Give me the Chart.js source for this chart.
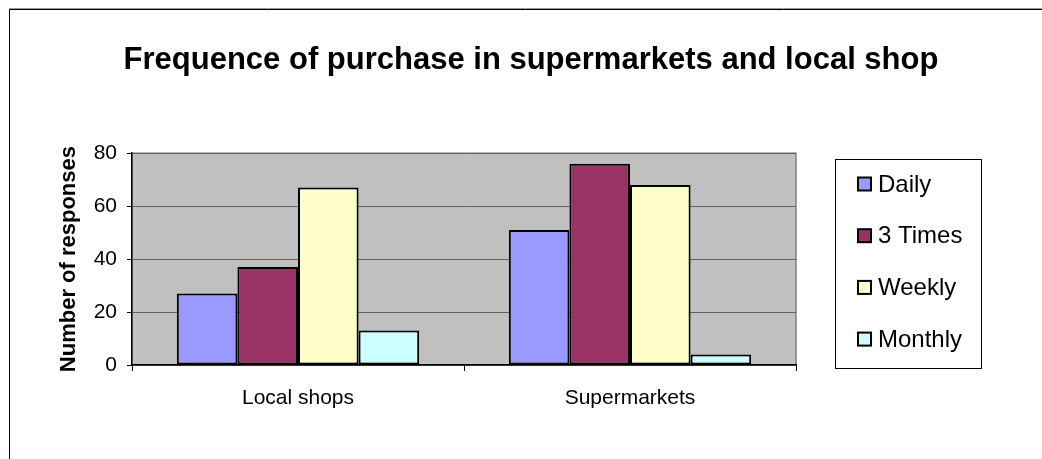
<!DOCTYPE html>
<html>
<head>
<meta charset="utf-8">
<script src="https://cdn.jsdelivr.net/npm/chart.js@4/dist/chart.umd.min.js"></script>
<style>
  html, body { margin: 0; padding: 0; background: #fff; }
  #wrap { position: relative; width: 1042px; height: 459px; }
</style>
</head>
<body>
<div id="wrap"><canvas id="c" width="1042" height="459"></canvas></div>
<script>
// Survey data: how often respondents buy in each kind of shop
const categories = ['Local shops', 'Supermarkets'];
const seriesNames = ['Daily', '3 Times', 'Weekly', 'Monthly'];
const daily   = [27, 51];
const threeTimes = [37, 76];
const weekly  = [67, 68];
const monthly = [13, 4];
const yTicks = [0, 20, 40, 60, 80];

const seriesValues = [daily, threeTimes, weekly, monthly];
const seriesColors = ['#9999FF', '#993366', '#FFFFCC', '#CCFFFF'];

const FONT = "'Liberation Sans', Arial, sans-serif";

// Frame, plot background and boxed legend
const decor = {
  id: 'decor',
  beforeDraw(chart) {
    const ctx = chart.ctx;
    const a = chart.chartArea;
    ctx.save();
    ctx.fillStyle = '#ffffff';
    ctx.fillRect(0, 0, chart.width, chart.height);
    // outer frame (top and left edges)
    ctx.strokeStyle = '#999999';
    ctx.lineWidth = 1;
    ctx.beginPath();
    ctx.moveTo(9, 8.5); ctx.lineTo(chart.width, 8.5);
    ctx.stroke();
    ctx.strokeStyle = '#000000';
    ctx.beginPath();
    ctx.moveTo(9.5, chart.height); ctx.lineTo(9.5, 9.5); ctx.lineTo(chart.width, 9.5);
    ctx.stroke();
    // plot area
    ctx.fillStyle = '#C0C0C0';
    ctx.fillRect(a.left, a.top, a.right - a.left, a.bottom - a.top);
    ctx.strokeStyle = '#808080';
    ctx.lineWidth = 1.5;
    ctx.strokeRect(a.left, a.top, a.right - a.left, a.bottom - a.top);
    ctx.restore();
  },
  afterDraw(chart) {
    const ctx = chart.ctx;
    const a = chart.chartArea;
    const bx = a.right + 39.5, by = 159.5, bw = 146, bh = 209;
    ctx.save();
    ctx.strokeStyle = '#000000';
    ctx.lineWidth = 1;
    ctx.strokeRect(bx, by, bw, bh);
    ctx.font = '24px ' + FONT;
    ctx.textBaseline = 'middle';
    ctx.textAlign = 'left';
    chart.data.datasets.forEach((ds, i) => {
      const y = 184 + i * 51.7;
      ctx.fillStyle = ds.backgroundColor;
      ctx.fillRect(bx + 22.5, y - 6.5, 13, 13);
      ctx.strokeStyle = '#000000';
      ctx.lineWidth = 2;
      ctx.strokeRect(bx + 22.5, y - 6.5, 13, 13);
      ctx.fillStyle = '#000000';
      ctx.fillText(ds.label, bx + 42.5, y + 1);
    });
    ctx.restore();
  }
};

new Chart(document.getElementById('c'), {
  type: 'bar',
  data: {
    labels: categories,
    datasets: seriesNames.map((name, i) => ({
      label: name,
      data: seriesValues[i],
      backgroundColor: seriesColors[i],
      borderColor: '#000000',
      borderWidth: 2,
      borderSkipped: false,
      categoryPercentage: 0.73,
      barPercentage: 1.0
    }))
  },
  options: {
    responsive: false,
    animation: false,
    devicePixelRatio: 1,
    layout: { padding: { left: 20, right: 0, top: 0, bottom: 0 } },
    plugins: {
      legend: { display: false },
      tooltip: { enabled: false },
      title: {
        display: true,
        text: 'Frequence of purchase in supermarkets and local shop',
        color: '#000000',
        font: { family: FONT, size: 31, weight: 'bold' },
        padding: { top: 42, bottom: 74 }
      }
    },
    scales: {
      x: {
        afterFit(scale) { scale.height = 94; },
        grid: {
          offset: true,
          drawOnChartArea: false,
          drawTicks: true,
          tickLength: 6,
          tickColor: '#000000',
          color: '#000000'
        },
        border: { display: true, color: '#000000', width: 1.5 },
        ticks: {
          color: '#000000',
          font: { family: FONT, size: 21 },
          padding: 15
        }
      },
      y: {
        min: 0,
        max: 80,
        afterFit(scale) { scale.width = 112; },
        afterBuildTicks(scale) { scale.ticks = yTicks.map(v => ({ value: v })); },
        grid: {
          color: '#606060',
          lineWidth: 1,
          drawTicks: true,
          tickLength: 5,
          tickColor: '#000000'
        },
        border: { display: true, color: '#000000', width: 1.5 },
        ticks: {
          color: '#000000',
          font: { family: FONT, size: 21 },
          padding: 10
        },
        title: {
          display: true,
          text: 'Number of responses',
          color: '#000000',
          font: { family: FONT, size: 22, weight: 'bold' },
          padding: { top: 36, bottom: 0 }
        }
      },
      // empty right-hand band that holds the legend box
      legendBand: {
        type: 'linear',
        position: 'right',
        afterFit(scale) { scale.width = 246; },
        grid: { display: false },
        border: { display: false },
        ticks: { display: false }
      }
    }
  },
  plugins: [decor]
});
</script>
</body>
</html>
